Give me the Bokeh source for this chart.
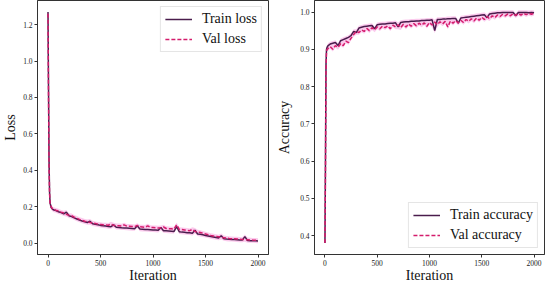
from bokeh.plotting import figure
from bokeh.layouts import row
from bokeh.models import FixedTicker, PrintfTickFormatter, Legend, LegendItem, Range1d
from bokeh.embed import file_html
from bokeh.resources import INLINE

# ---------------- data ----------------
iterations = [0, 5, 10, 15, 20, 30, 40, 50] + list(range(75, 2001, 25))

train_loss = [1.27, 0.85, 0.45, 0.28, 0.22, 0.195, 0.188, 0.183,
              0.178, 0.172, 0.167, 0.160, 0.170, 0.150, 0.145, 0.138, 0.132, 0.126,
              0.121, 0.117, 0.113, 0.120, 0.106, 0.103, 0.100, 0.097, 0.095, 0.093,
              0.091, 0.090, 0.100, 0.087, 0.086, 0.084, 0.083, 0.082, 0.081, 0.080,
              0.079, 0.095, 0.077, 0.076, 0.075, 0.074, 0.073, 0.072, 0.071, 0.070,
              0.085, 0.068, 0.067, 0.066, 0.065, 0.064, 0.090, 0.062, 0.060, 0.059,
              0.057, 0.056, 0.054, 0.070, 0.050, 0.048, 0.045, 0.042, 0.039, 0.036,
              0.033, 0.030, 0.028, 0.040, 0.024, 0.022, 0.021, 0.020, 0.019, 0.018,
              0.017, 0.016, 0.035, 0.014, 0.013, 0.013, 0.012, 0.011]

val_loss = [1.26, 0.80, 0.42, 0.27, 0.215, 0.200, 0.190, 0.186,
            0.180, 0.176, 0.170, 0.165, 0.158, 0.152, 0.150, 0.142, 0.136, 0.130,
            0.125, 0.120, 0.118, 0.113, 0.110, 0.107, 0.104, 0.102, 0.100, 0.099,
            0.098, 0.105, 0.097, 0.096, 0.095, 0.094, 0.100, 0.093, 0.092, 0.091,
            0.090, 0.097, 0.089, 0.088, 0.087, 0.094, 0.086, 0.085, 0.084, 0.083,
            0.082, 0.088, 0.080, 0.079, 0.078, 0.077, 0.100, 0.075, 0.074, 0.072,
            0.070, 0.068, 0.075, 0.064, 0.061, 0.058, 0.054, 0.050, 0.046, 0.042,
            0.039, 0.036, 0.034, 0.031, 0.029, 0.027, 0.025, 0.024, 0.023, 0.022,
            0.021, 0.020, 0.019, 0.018, 0.017, 0.016, 0.015, 0.014]

train_acc = [0.38, 0.60, 0.86, 0.900, 0.905, 0.910, 0.912, 0.914,
             0.916, 0.918, 0.910, 0.923, 0.926, 0.929, 0.932, 0.937, 0.948, 0.945,
             0.957, 0.959, 0.961, 0.962, 0.963, 0.964, 0.955, 0.966, 0.967, 0.968,
             0.968, 0.969, 0.970, 0.970, 0.971, 0.960, 0.972, 0.973, 0.974, 0.974,
             0.975, 0.975, 0.976, 0.976, 0.977, 0.977, 0.978, 0.978, 0.979, 0.950,
             0.980, 0.980, 0.981, 0.981, 0.982, 0.982, 0.983, 0.983, 0.970, 0.984,
             0.985, 0.986, 0.987, 0.988, 0.989, 0.990, 0.991, 0.992, 0.993, 0.985,
             0.995, 0.996, 0.997, 0.998, 0.998, 0.999, 0.999, 0.999, 0.999, 0.999,
             0.990, 0.999, 0.999, 0.999, 0.999, 0.998, 0.999, 0.998]

val_acc = [0.38, 0.58, 0.84, 0.895, 0.900, 0.902, 0.905, 0.907,
           0.900, 0.910, 0.905, 0.915, 0.910, 0.922, 0.918, 0.930, 0.940, 0.948,
           0.945, 0.952, 0.948, 0.956, 0.950, 0.958, 0.952, 0.960, 0.955, 0.962,
           0.958, 0.963, 0.955, 0.965, 0.960, 0.966, 0.958, 0.967, 0.960, 0.968,
           0.962, 0.969, 0.963, 0.970, 0.965, 0.971, 0.962, 0.972, 0.965, 0.973,
           0.966, 0.974, 0.968, 0.975, 0.960, 0.976, 0.970, 0.977, 0.971, 0.978,
           0.972, 0.980, 0.975, 0.982, 0.976, 0.984, 0.978, 0.986, 0.980, 0.988,
           0.982, 0.990, 0.985, 0.992, 0.988, 0.994, 0.990, 0.995, 0.990, 0.996,
           0.991, 0.996, 0.992, 0.997, 0.993, 0.997, 0.994, 0.997]

x_ticks = [0, 500, 1000, 1500, 2000]
loss_ticks = [0.0, 0.2, 0.4, 0.6, 0.8, 1.0, 1.2]
acc_ticks = [0.4, 0.5, 0.6, 0.7, 0.8, 0.9, 1.0]

# ---------------- style ----------------
FONT = "Liberation Serif"
TRAIN_C = "#4a1c4c"
VAL_C = "#d41c6c"
BAND_C = "#f7a0de"
FRAME_C = "#333333"


def make_fig(frame_w, border_left, border_right, ylabel, yticks, yrange, label_standoff):
    p = figure(frame_width=frame_w, frame_height=254, output_backend="svg",
               toolbar_location=None,
               x_range=Range1d(-100, 2100), y_range=Range1d(*yrange),
               min_border_left=border_left, min_border_right=border_right,
               min_border_top=0, min_border_bottom=0)
    p.xgrid.visible = False
    p.ygrid.visible = False
    p.outline_line_color = FRAME_C
    p.outline_line_width = 1
    p.background_fill_color = "white"
    p.xaxis.ticker = FixedTicker(ticks=x_ticks)
    p.yaxis.ticker = FixedTicker(ticks=yticks)
    p.yaxis.formatter = PrintfTickFormatter(format="%.1f")
    p.xaxis.axis_label = "Iteration"
    p.yaxis.axis_label = ylabel
    for ax in (p.xaxis[0], p.yaxis[0]):
        ax.minor_tick_line_color = None
        ax.major_tick_in = 0
        ax.major_tick_out = 3
        ax.major_tick_line_color = FRAME_C
        ax.axis_line_color = FRAME_C
        ax.major_label_text_font = FONT
        ax.major_label_text_font_size = "7.5px"
        ax.major_label_text_color = "#222222"
        ax.major_label_standoff = 2
        ax.axis_label_text_font = FONT
        ax.axis_label_text_font_size = "14px"
        ax.axis_label_text_font_style = "normal"
        ax.axis_label_text_color = "#111111"
    p.xaxis.axis_label_standoff = -1
    p.xaxis.major_label_standoff = 2
    p.yaxis.axis_label_standoff = label_standoff
    return p


def add_series(p, train, val, pad, labels, loc):
    lo = [min(a, b) - pad for a, b in zip(train, val)]
    hi = [max(a, b) + pad for a, b in zip(train, val)]
    p.varea(x=iterations, y1=lo, y2=hi, fill_color=BAND_C, fill_alpha=0.55)
    r1 = p.line(iterations, train, line_color=TRAIN_C, line_width=1.5)
    r2 = p.line(iterations, val, line_color=VAL_C, line_width=1.5, line_dash="4 2")
    leg = Legend(items=[LegendItem(label=labels[0], renderers=[r1]),
                        LegendItem(label=labels[1], renderers=[r2])],
                 location=loc)
    leg.label_text_font = FONT
    leg.label_text_font_size = "14px"
    leg.label_text_color = "#111111"
    leg.glyph_width = 27
    leg.glyph_height = 14
    leg.label_height = 16
    leg.label_standoff = 10
    leg.padding = 4
    leg.spacing = 4
    leg.margin = 6
    leg.border_line_color = "#cccccc"
    leg.border_line_width = 1
    leg.background_fill_alpha = 0.85
    p.add_layout(leg)


p1 = make_fig(231, 30, 4, "Loss", loss_ticks, (-0.063, 1.333), 2)
add_series(p1, train_loss, val_loss, 0.012, ("Train loss", "Val loss"), "top_right")

p2 = make_fig(230, 42, 2, "Accuracy", acc_ticks, (0.349, 1.031), 5)
add_series(p2, train_acc, val_acc, 0.006, ("Train accuracy", "Val accuracy"), "bottom_right")

layout = row(p1, p2)

open("out.html", "w").write(file_html(layout, INLINE))
